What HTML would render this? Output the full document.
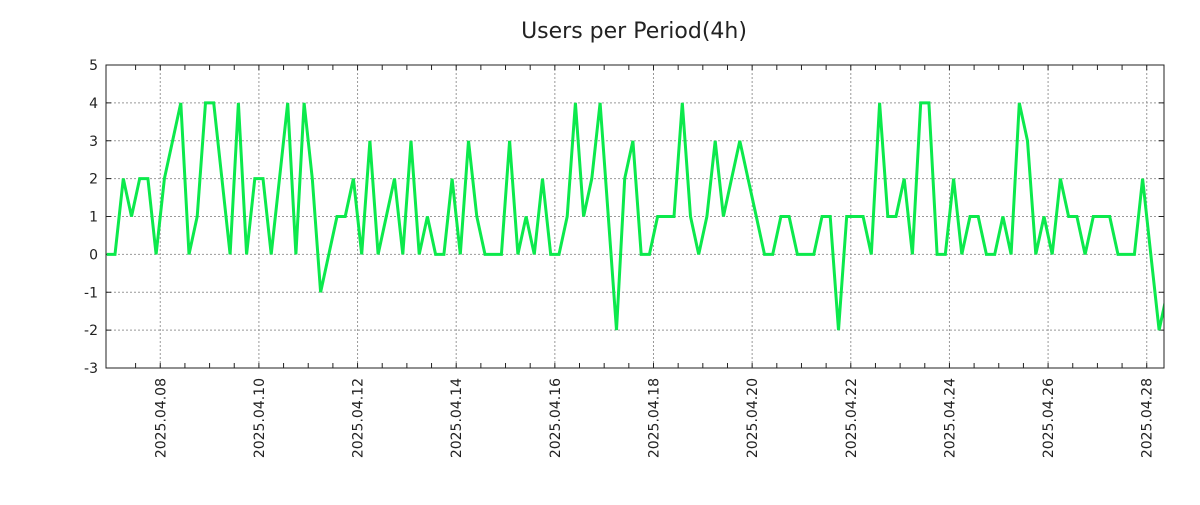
<!DOCTYPE html>
<html><head><meta charset="utf-8"><style>
body{margin:0;background:#fff;}
svg text{font-family:"DejaVu Sans","Liberation Sans",sans-serif;fill:#222;}
</style></head><body>
<svg id="chart" width="1200" height="500" viewBox="0 0 1200 500" xmlns="http://www.w3.org/2000/svg">
<rect width="1200" height="500" fill="#fff"/>
<text x="634" y="38" text-anchor="middle" font-size="22">Users per Period(4h)</text>
<g id="grid"></g>
<g id="axes"></g>
<g id="series"></g>
<rect x="106" y="65" width="1058" height="303" fill="none" stroke="#222" stroke-width="1"/>
</svg>
<script>
const values = [0,0,2,1,2,2,0,2,3,4, 0,1,4,4,2,0,4,0,2,2, 0,2,4,0,4,2,-1,0,1,1, 2,0,3,0,1,2,0,3,0,1,
 0,0,2,0,3,1,0,0,0,3, 0,1,0,2,0,0,1,4,1,2, 4,1,-2,2,3,0,0,1,1,1, 4,1,0,1,3,1,2,3,2,1,
 0,0,1,1,0,0,0,1,1,-2, 1,1,1,0,4,1,1,2,0,4, 4,0,0,2,0,1,1,0,0,1, 0,4,3,0,1,0,2,1,1,0,
 1,1,1,0,0,0,2,0,-2,-1];
const startHour = -26;
const stepHours = 4;
const yTicks = [-3,-2,-1,0,1,2,3,4,5];
const xLabels = ["2025.04.08","2025.04.10","2025.04.12","2025.04.14","2025.04.16","2025.04.18","2025.04.20","2025.04.22","2025.04.24","2025.04.26","2025.04.28"];

const L=106,R=1164,T=65,B=368;
const xMinH=-26.4, xMaxH=488.4, yMin=-3, yMax=5;
const xs=h=>L+(h-xMinH)/(xMaxH-xMinH)*(R-L);
const ys=v=>B-(v-yMin)/(yMax-yMin)*(B-T);
const NS="http://www.w3.org/2000/svg";
function mk(tag,attrs,parent){const e=document.createElementNS(NS,tag);for(const k in attrs)e.setAttribute(k,attrs[k]);parent.appendChild(e);return e;}
const grid=document.getElementById('grid'),axes=document.getElementById('axes'),series=document.getElementById('series');

yTicks.forEach(v=>{
  const y=ys(v);
  if(v>yMin&&v<yMax){const g=mk('line',{x1:L,x2:R,y1:y,y2:y,stroke:'#999','stroke-dasharray':'2,2','stroke-width':1},grid);
  
  }
  const t1=mk('line',{x1:L,x2:L+5,y1:y,y2:y,stroke:'#222'},axes);
  
  
  const t2=mk('line',{x1:R-5,x2:R,y1:y,y2:y,stroke:'#222'},axes);
  
  
  const tx=mk('text',{x:98,y:y+5,'text-anchor':'end','font-size':14},axes);
  tx.textContent=v;
  
  
});
for(let h=-12;h<=xMaxH;h+=12){
  const x=xs(h);
  const a=mk('line',{x1:x,x2:x,y1:B-5,y2:B,stroke:'#222'},axes);
  
  
  const b=mk('line',{x1:x,x2:x,y1:T,y2:T+5,stroke:'#222'},axes);
  
  
}
xLabels.forEach((lab,i)=>{
  const x=xs(i*48);
  const g=mk('line',{x1:x,x2:x,y1:T,y2:B,stroke:'#999','stroke-dasharray':'2,2','stroke-width':1},grid);
  
  
  const t=mk('text',{x:0,y:0,'text-anchor':'end','font-size':14,transform:`translate(${x+5},${B+10}) rotate(-90)`},axes);
  t.textContent=lab;
  
  
});
const clip=mk('clipPath',{id:'pc'},document.getElementById('chart'));
mk('rect',{x:L,y:T,width:R-L,height:B-T},clip);
const pts=values.map((v,i)=>xs(startHour+i*stepHours).toFixed(1)+','+ys(v).toFixed(1)).join(' ');
const line=mk('polyline',{points:pts,fill:'none',stroke:'#0ce94c','stroke-width':3,'stroke-linejoin':'miter','clip-path':'url(#pc)'},series);


</script>
</body></html>
